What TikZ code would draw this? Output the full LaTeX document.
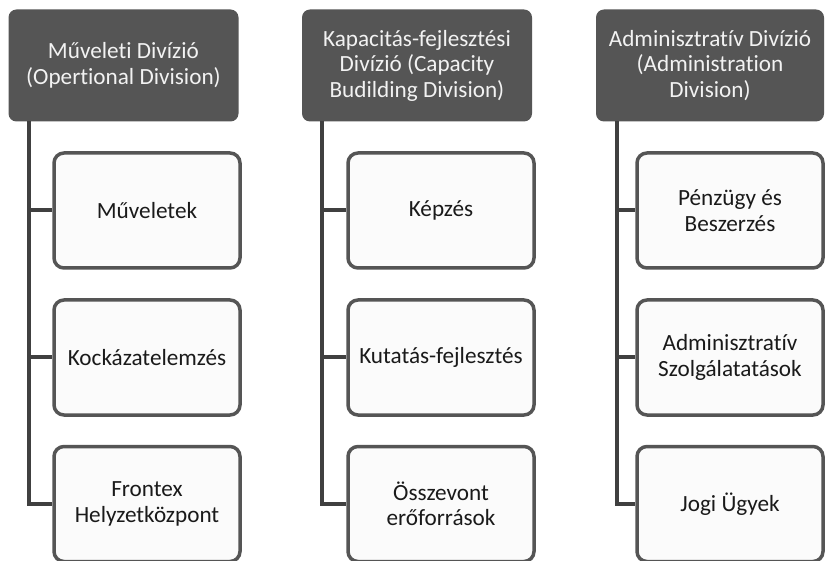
\documentclass[tikz,border=0pt]{standalone}
\usepackage{fontspec}
\setmainfont{Carlito}[Ligatures=NoCommon]
\definecolor{hdrfill}{HTML}{555555}
\definecolor{hdrtext}{HTML}{F2F2F2}
\definecolor{boxline}{HTML}{555555}
\definecolor{boxfill}{HTML}{FBFBFB}
\definecolor{connline}{HTML}{404040}
\definecolor{childtext}{HTML}{1A1A1A}
\newcommand{\boxfont}{\fontsize{23.2}{25.5}\selectfont}
\tikzset{
  hdr/.style={rectangle, rounded corners=8pt, fill=hdrfill, draw=none, text=hdrtext,
    align=center, minimum width=230pt, minimum height=112pt,
    inner sep=0pt, font=\boxfont},
  child/.style={rectangle, rounded corners=10pt, draw=boxline, line width=3.5pt, fill=boxfill,
    text=childtext, align=center, minimum width=186pt, minimum height=115pt,
    inner sep=0pt, font=\boxfont},
  conn/.style={draw=connline, line width=4pt}
}
\begin{document}
\begin{tikzpicture}[x=1pt,y=-1pt]
\useasboundingbox (0,0) rectangle (825,561);
\fill[white] (0,0) rectangle (825,561);
\begin{scope}
\clip (0,0) rectangle (825,561);
% headers
\node[hdr] (h1) at (123.5,65.5) {Műveleti Divízió\\(Opertional Division)};
\node[hdr] (h2) at (417,65.5) {Kapacitás-fejlesztési\\Divízió (Capacity\\Budilding Division)};
\node[hdr, minimum width=228pt] (h3) at (710,65.5) {Adminisztratív Divízió\\(Administration\\Division)};
% spine coordinates
\coordinate (t1) at (29,121);
\coordinate (t2) at (322,121);
\coordinate (t3) at (617,121);
% children column 1
\node[child] (c11) at (147,210.5) {Műveletek};
\node[child] (c12) at (147,357.5) {Kockázatelemzés};
\node[child] (c13) at (147,504) {Frontex\\Helyzetközpont};
% children column 2
\node[child] (c21) at (441,210.5) {Képzés};
\node[child] (c22) at (441,357.5) {Kutatás-fejlesztés};
\node[child] (c23) at (441,504) {Összevont\\erőforrások};
% children column 3
\node[child] (c31) at (730,210.5) {Pénzügy és\\Beszerzés};
\node[child] (c32) at (730,357.5) {Adminisztratív\\Szolgálatatások};
\node[child] (c33) at (730,504) {Jogi Ügyek};
% connectors
\foreach \col in {1,2,3}{
  \draw[conn] (t\col) |- (c\col3.west);
  \draw[conn] (c\col1.west -| t\col) -- (c\col1.west);
  \draw[conn] (c\col2.west -| t\col) -- (c\col2.west);
}
\end{scope}
\end{tikzpicture}
\end{document}
